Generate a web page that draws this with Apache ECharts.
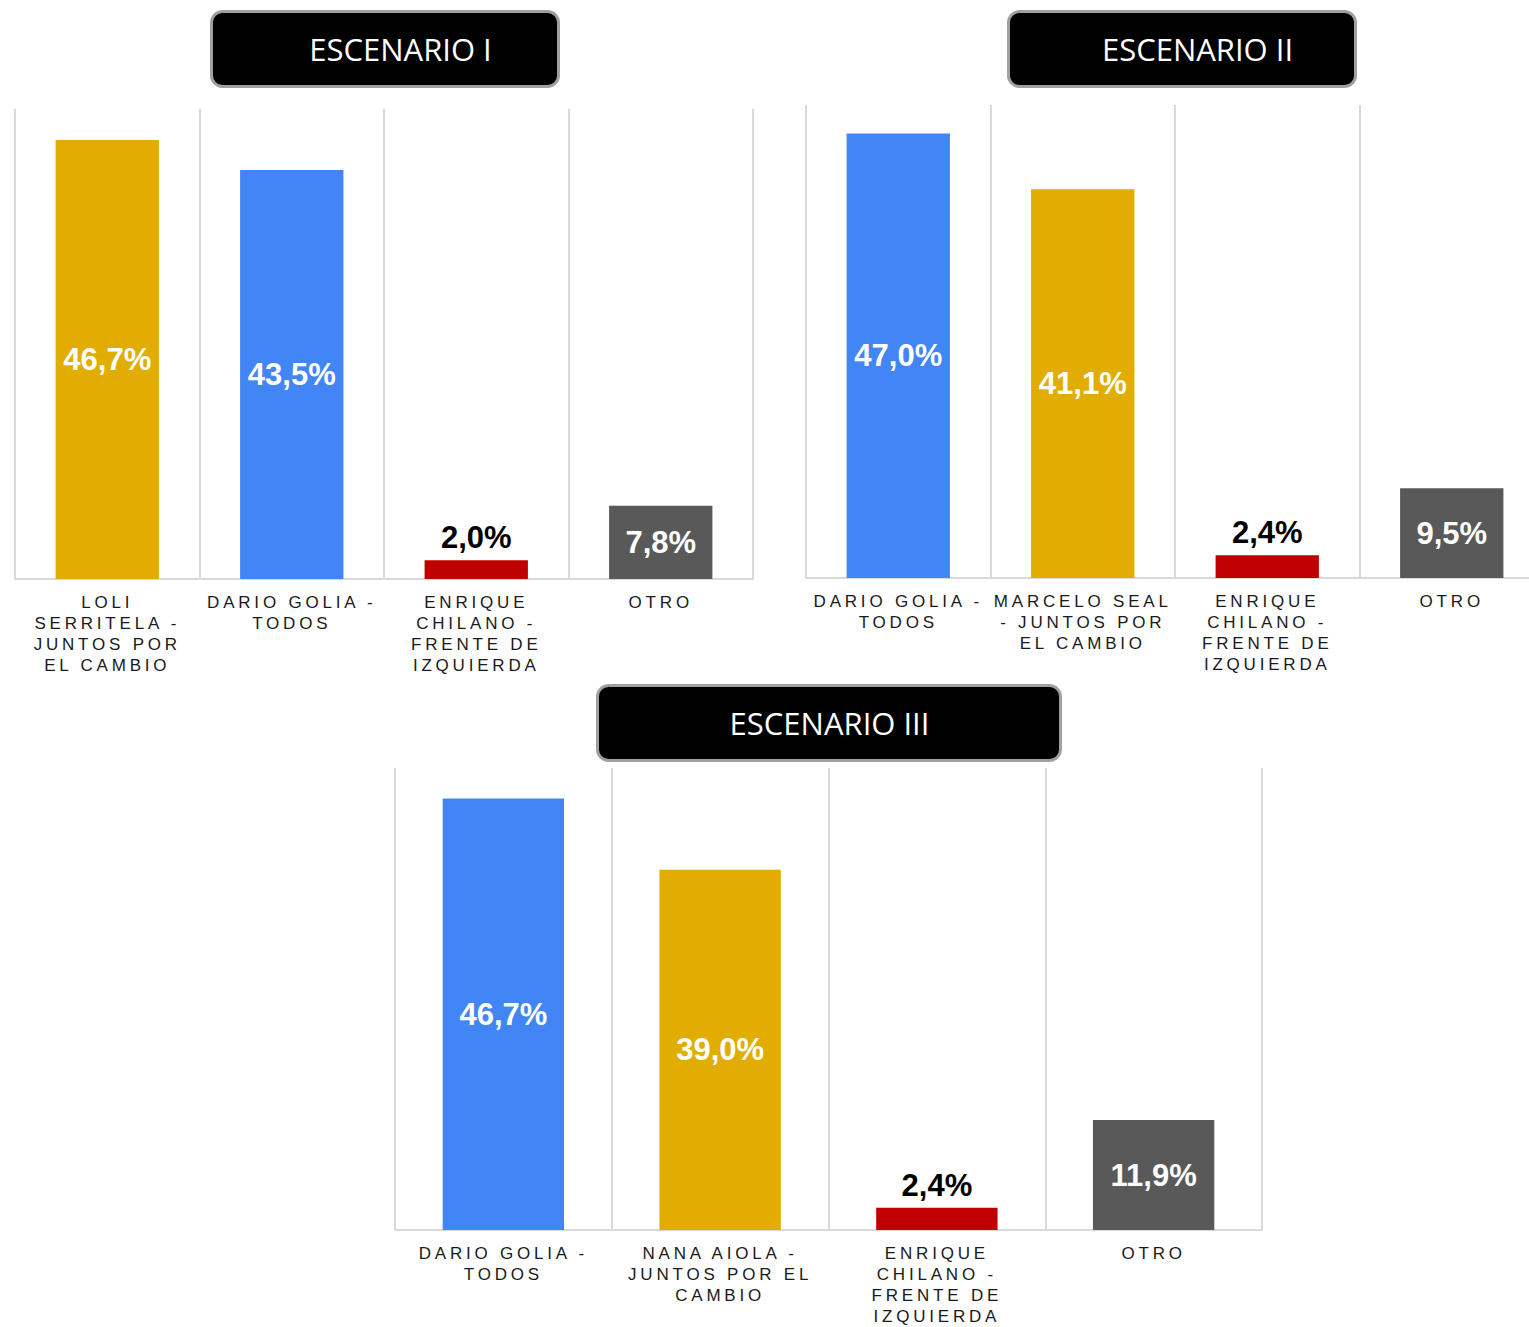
<!DOCTYPE html>
<html>
<head>
<meta charset="utf-8">
<script src="https://cdn.jsdelivr.net/npm/echarts@6/dist/echarts.min.js"></script>
<style>
  html, body { margin: 0; padding: 0; background: #fff; }
  #chart { width: 1529px; height: 1327px; }
  text[style*="Liberation Sans"], text[font-family*="Liberation Sans"] { letter-spacing: 3.8px; }
</style>
</head>
<body>
<div id="chart"></div>
<script>
// ---- data ----
const titles = ['ESCENARIO I', 'ESCENARIO II', 'ESCENARIO III'];

const categories1 = ['LOLI\nSERRITELA -\nJUNTOS POR\nEL CAMBIO', 'DARIO GOLIA -\nTODOS', 'ENRIQUE\nCHILANO -\nFRENTE DE\nIZQUIERDA', 'OTRO'];
const values1 = [46.7, 43.5, 2.0, 7.8];
const parties1 = ['jxc', 'todos', 'fit', 'otro'];

const categories2 = ['DARIO GOLIA -\nTODOS', 'MARCELO SEAL\n- JUNTOS POR\nEL CAMBIO', 'ENRIQUE\nCHILANO -\nFRENTE DE\nIZQUIERDA', 'OTRO'];
const values2 = [47.0, 41.1, 2.4, 9.5];
const parties2 = ['todos', 'jxc', 'fit', 'otro'];

const categories3 = ['DARIO GOLIA -\nTODOS', 'NANA AIOLA -\nJUNTOS POR EL\nCAMBIO', 'ENRIQUE\nCHILANO -\nFRENTE DE\nIZQUIERDA', 'OTRO'];
const values3 = [46.7, 39.0, 2.4, 11.9];
const parties3 = ['todos', 'jxc', 'fit', 'otro'];

// ---- styles ----
const partyColors = { jxc: '#E1AD01', todos: '#4285F4', fit: '#C00000', otro: '#595959' };
const labelOutside = { fit: true };

const grids = [
  { left: 15, top: 109, width: 738, height: 470 },
  { left: 806, top: 105, width: 738, height: 473 },
  { left: 395, top: 768, width: 867, height: 462 }
];
const titleBoxes = [
  { x: 210, y: 10, w: 347, h: 75, tx: 399 },
  { x: 1007, y: 10, w: 347, h: 75, tx: 1196 },
  { x: 596, y: 684, w: 463, h: 75, tx: 828 }
];

const sets = [
  { cats: categories1, vals: values1, parties: parties1 },
  { cats: categories2, vals: values2, parties: parties2 },
  { cats: categories3, vals: values3, parties: parties3 }
];

const fmt = v => v.toFixed(1).replace('.', ',') + '%';

const chart = echarts.init(document.getElementById('chart'), null, { renderer: 'svg' });

const option = {
  animation: false,
  backgroundColor: '#ffffff',
  grid: grids.map(g => Object.assign({ containLabel: false, outerBoundsMode: 'none' }, g)),
  xAxis: sets.map((s, i) => ({
    gridIndex: i,
    type: 'category',
    data: s.cats,
    axisTick: { show: false },
    axisLine: { lineStyle: { color: '#d9d9d9', width: 2 } },
    splitLine: { show: true, lineStyle: { color: '#d9d9d9', width: 2 } },
    axisLabel: {
      interval: 0,
      margin: 13,
      fontSize: 17,
      lineHeight: 21,
      color: '#1a1a1a',
      fontFamily: 'Liberation Sans'
    }
  })),
  yAxis: sets.map((s, i) => ({
    gridIndex: i, type: 'value', min: 0, max: 50, show: false
  })),
  series: sets.map((s, i) => ({
    type: 'bar',
    xAxisIndex: i,
    yAxisIndex: i,
    barWidth: '56%',
    data: s.vals.map((v, j) => {
      const p = s.parties[j];
      const out = !!labelOutside[p];
      return {
        value: v,
        itemStyle: { color: partyColors[p] },
        label: {
          show: true,
          position: out ? 'top' : 'inside',
          distance: 7,
          color: out ? '#000000' : '#ffffff',
          fontSize: 31,
          fontWeight: 'bold',
          fontFamily: 'Arial',
          formatter: d => fmt(d.value)
        }
      };
    })
  })),
  graphic: titleBoxes.map((b, i) => ({
    type: 'group',
    left: b.x,
    top: b.y,
    children: [
      {
        type: 'rect',
        shape: { x: 0, y: 0, width: b.w, height: b.h, r: 11 },
        style: { fill: '#000000', stroke: '#a0a0a0', lineWidth: 3 }
      },
      {
        type: 'text',
        x: b.tx - b.x,
        y: b.h / 2,
        style: {
          text: titles[i],
          fill: '#ffffff',
          font: '31px "Open Sans"',
          textAlign: 'center',
          textVerticalAlign: 'middle'
        }
      }
    ]
  }))
};

chart.setOption(option);
</script>
</body>
</html>
